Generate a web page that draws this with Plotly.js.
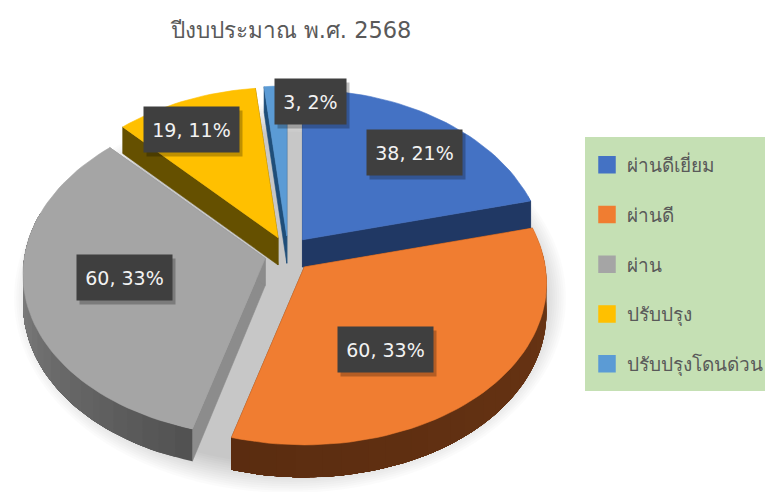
<!DOCTYPE html>
<html><head><meta charset="utf-8">
<script src="https://cdn.plot.ly/plotly-3.0.1.min.js"></script>
<style>html,body{margin:0;padding:0;background:#fff}#c{width:765px;height:492px}</style></head>
<body><div id="c"></div>
<script>
const categories = ["ผ่านดีเยี่ยม","ผ่านดี","ผ่าน","ปรับปรุง","ปรับปรุงโดนด่วน"];
const values = [38,60,60,19,3];
const topColors = ["#4472C4","#F07D31","#A5A5A5","#FFC000","#5B9BD5"];
const faceColors = ["#203864","#5F2F12","#8C8C8C","#655000","#1F4E79"];
const wallStart = ["#203864","#6A3514","#525252","#655000","#1F4E79"];
const wallEnd = ["#203864","#5A2C10","#A0A0A0","#655000","#1F4E79"];
const labelAnchors = [[414,152],[385.5,349.5],[124,277.5],[191,129.5],[310.5,101]];
const drawOrder = [4,3,0,2,1];
const font = "'DejaVu Sans','Noto Sans',sans-serif";

const total = values.reduce((a,b)=>a+b,0);
const rad = d=>d*Math.PI/180;
const C = {x:288,y:254}, E = {x:23.5,y:18}, RX=241, RY=164, DEPTH=29;
function rim(a,deg){
  const X=Math.sin(rad(deg)),Y=Math.cos(rad(deg));
  return [a.x+RX*X*(1-0.1*Y), a.y-RY*Y*(1-0.085*Y), DEPTH*(1-0.12*Y)];
}
const hex=c=>[1,3,5].map(i=>parseInt(c.substr(i,2),16));
const mix=(a,b,t)=>{const A=hex(a),B=hex(b);return "rgb("+A.map((v,i)=>Math.round(v+(B[i]-v)*t)).join(",")+")";};
const poly=(xs,ys,color)=>({type:"scatter",mode:"lines",x:[...xs,xs[0]],y:[...ys,ys[0]],fill:"toself",fillcolor:color,
  line:{color:color,width:0.6},hoverinfo:"skip",showlegend:false});

let cum=0; const slices=values.map((v,i)=>{
  const a0=cum/total*360; cum+=v; const a1=cum/total*360; const m=rad((a0+a1)/2);
  return {i,a0,a1,apex:{x:C.x+E.x*Math.sin(m),y:C.y-E.y*Math.cos(m)}};
});

const traces=[];
categories.forEach((c,i)=>traces.push({type:"scatter",mode:"markers",x:[null],y:[null],name:c,legendgroup:"g"+i,
  marker:{symbol:"square",size:16,color:topColors[i],line:{color:topColors[i],width:1.5}},hoverinfo:"skip"}));

drawOrder.forEach(i=>{
  const s=slices[i];
  const seg=[]; const n=Math.max(2,Math.ceil((s.a1-s.a0)/2));
  for(let k=0;k<=n;k++){seg.push(s.a0+(s.a1-s.a0)*k/n);}
  const apexD=DEPTH*0.94;
  [s.a0,s.a1].forEach(d=>{
    const p=rim(s.apex,d);
    traces.push(poly([s.apex.x,p[0],p[0],s.apex.x],[s.apex.y,p[1],p[1]+p[2],s.apex.y+apexD],faceColors[i]));
  });
  // outer wall: each band runs to the end of the arc, so later bands paint over it with no seams
  const vis=seg.filter(d=>Math.cos(rad(d))<=0.3);
  const bands=Math.min(24,vis.length-1);
  for(let b=0;b<bands;b++){
    const from=Math.round(b/bands*(vis.length-1));
    const xs=[],ys=[],xb=[],yb=[];
    vis.slice(from).forEach(d=>{const p=rim(s.apex,d);xs.push(p[0]);ys.push(p[1]);xb.unshift(p[0]);yb.unshift(p[1]+p[2]);});
    const col=mix(wallStart[i],wallEnd[i],(vis[from]-s.a0)/(s.a1-s.a0));
    const t=poly([...xs,...xb],[...ys,...yb],col); t.line.width=0;
    traces.push(t);
  }
  const xs=[s.apex.x],ys=[s.apex.y];
  seg.forEach(d=>{const p=rim(s.apex,d);xs.push(p[0]);ys.push(p[1]);});
  traces.push(poly(xs,ys,topColors[i]));
});

const annotations=[];
values.forEach((v,i)=>{
  const [x,y]=labelAnchors[i];
  const text=v+", "+Math.round(v/total*100)+"%";
  const w=i===4?71:95;
  annotations.push({x:x+3,y:y+4,xref:"x",yref:"y",text:" ",showarrow:false,width:w,height:45,bgcolor:"rgba(0,0,0,0.25)",borderpad:0});
  annotations.push({x,y,xref:"x",yref:"y",text,showarrow:false,width:w,height:45,bgcolor:"#3F3F3F",borderpad:0,
    font:{family:font,size:19,color:"#F2F2F2"}});
});

const shapes=[];
for(let k=0;k<14;k++){
  const rx=276-k*2.2, ry=195-k*2.2;
  shapes.push({type:"circle",xref:"x",yref:"y",x0:290-rx,x1:290+rx,y0:298-ry,y1:298+ry,fillcolor:"rgba(0,0,0,0.0152)",line:{width:0},layer:"below"});
}
shapes.push({type:"rect",xref:"x",yref:"y",x0:585,x1:765,y0:137,y1:391,fillcolor:"#C5E0B4",line:{width:0},layer:"below"});

Plotly.newPlot("c",traces,{
  width:765,height:492,margin:{l:0,r:0,t:0,b:0,autoexpand:false},paper_bgcolor:"#fff",plot_bgcolor:"#fff",
  title:{text:"ปีงบประมาณ พ.ศ. 2568",x:291/765,xanchor:"center",y:1-30/492,yanchor:"middle",font:{family:font,size:22.5,color:"#595959"}},
  xaxis:{range:[0,765],visible:false,fixedrange:true},
  yaxis:{range:[492,0],visible:false,fixedrange:true},
  legend:{x:587/765,y:1-146/492,xanchor:"left",yanchor:"top",bgcolor:"rgba(0,0,0,0)",traceorder:"grouped",tracegroupgap:22,
    entrywidth:138,entrywidthmode:"pixels",font:{family:font,size:19,color:"#595959"}},
  shapes,annotations
},{staticPlot:true,displayModeBar:false});
</script></body></html>
